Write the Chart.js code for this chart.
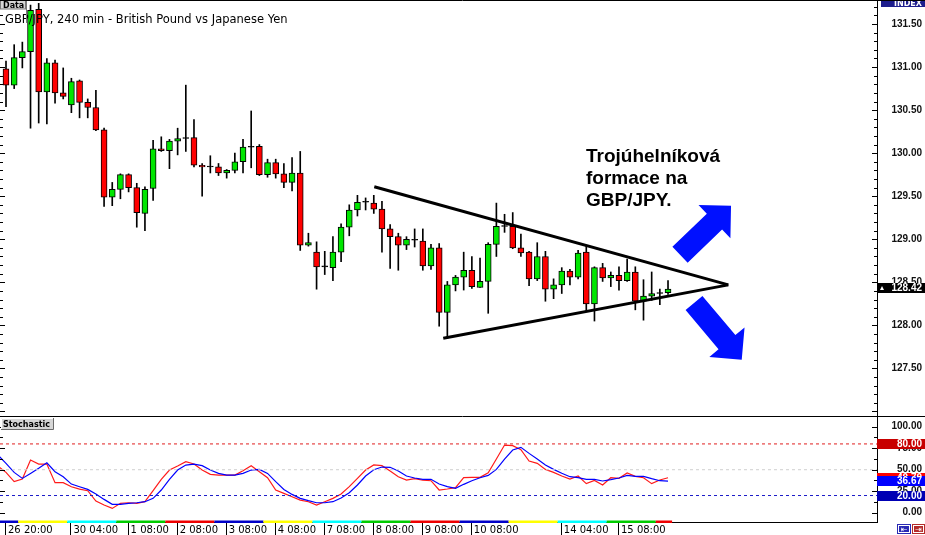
<!DOCTYPE html>
<html>
<head>
<meta charset="utf-8">
<script src="https://cdn.jsdelivr.net/npm/chart.js@4.4.1/dist/chart.umd.min.js"></script>
<style>
  html, body { margin: 0; padding: 0; background: #fff; }
  #wrap { position: relative; width: 925px; height: 535px; background: #fff; overflow: hidden; }
  #priceChart { position: absolute; left: 0; top: 0; }
  #stochChart { position: absolute; left: 0; top: 417px; }
</style>
</head>
<body>
<div id="wrap">
  <canvas id="priceChart" width="925" height="417"></canvas>
  <canvas id="stochChart" width="925" height="118"></canvas>
</div>
<script>
const title = 'GBP/JPY, 240 min - British Pound vs Japanese Yen';

// 4h candles, index 0 = "26 20:00"
const open = [130.98,130.79,131.11,131.18,131.67,130.71,131.05,130.70,130.56,130.84,
  130.59,130.53,130.27,129.49,129.58,129.75,129.60,129.30,129.59,130.05,
  130.03,130.14,130.17,130.18,129.86,129.85,129.84,129.77,129.80,129.90,
  130.07,130.08,129.75,129.89,129.76,129.66,129.77,128.93,128.85,128.69,
  128.67,128.85,129.14,129.34,129.43,129.42,129.35,129.12,129.03,128.93,
  129.00,128.98,128.69,128.90,128.15,128.47,128.56,128.64,128.44,128.51,
  128.94,129.15,129.15,128.90,128.85,128.54,128.80,128.42,128.47,128.63,
  128.56,128.85,128.25,128.67,128.55,128.58,128.52,128.62,128.28,128.34,
  128.37,128.38];
const high = [131.07,131.26,131.29,131.72,131.74,131.10,131.08,130.99,130.87,130.85,
  130.63,130.73,130.29,129.66,129.76,129.76,129.65,129.61,130.15,130.19,
  130.16,130.29,130.79,130.39,129.88,129.97,129.88,129.81,130.00,130.16,
  130.49,130.10,129.93,129.93,129.88,129.95,130.02,129.07,128.97,128.86,
  129.03,129.18,129.40,129.51,129.48,129.51,129.44,129.17,129.07,129.03,
  129.12,129.12,128.94,128.95,128.51,128.58,128.85,128.80,128.78,128.96,
  129.42,129.29,129.31,129.06,128.86,128.96,128.86,128.54,128.67,128.65,
  128.87,128.92,128.68,128.72,128.62,128.68,128.77,128.68,128.53,128.62,
  128.42,128.52];
const low = [130.54,130.75,130.99,130.29,130.35,130.34,130.58,130.63,130.47,130.41,
  130.41,130.26,129.38,129.39,129.47,129.55,129.14,129.10,129.45,130.02,
  129.82,129.98,130.02,129.84,129.50,129.77,129.74,129.71,129.77,129.77,
  129.83,129.74,129.72,129.71,129.60,129.56,128.87,128.92,128.42,128.59,
  128.52,128.74,129.04,129.27,129.34,129.30,128.85,128.66,128.64,128.88,
  128.91,128.64,128.65,127.99,127.85,128.40,128.41,128.43,128.44,128.14,
  128.80,129.08,128.89,128.80,128.46,128.52,128.28,128.31,128.37,128.47,
  128.54,128.16,128.05,128.51,128.45,128.41,128.51,128.18,128.06,128.29,
  128.24,128.36];
const close = [130.79,131.11,131.18,131.66,130.71,131.05,130.70,130.66,130.83,130.59,
  130.53,130.27,129.49,129.58,129.75,129.60,129.31,129.58,130.05,130.03,
  130.14,130.17,130.18,129.86,129.84,129.84,129.77,129.80,129.90,130.07,
  130.08,129.75,129.89,129.76,129.66,129.77,128.93,128.96,128.68,128.68,
  128.85,129.14,129.34,129.43,129.44,129.35,129.12,129.03,128.93,129.00,
  128.99,128.69,128.90,128.15,128.47,128.56,128.64,128.45,128.51,128.94,
  129.15,129.16,128.90,128.84,128.54,128.80,128.42,128.47,128.63,128.56,
  128.84,128.25,128.67,128.55,128.58,128.52,128.62,128.28,128.34,128.37,
  128.38,128.42];

// stochastic, first value belongs to the bar before index 0
const stochFirst = -1;
const stochMain = [54.3,
  46.9,36.1,39.2,61.2,56.6,56.6,34.9,34.9,30.2,27.5,
  25.6,13.6,8.9,5.0,10.9,11.6,10.9,12.8,25.6,38.8,
  49.6,54.3,59.3,56.6,49.6,44.6,43.8,43.8,43.8,48.8,
  54.7,47.7,40.7,26.4,22.5,18.6,14.7,12.8,8.9,12.8,
  16.7,21.7,30.3,40.0,49.6,55.5,54.7,48.5,41.9,38.0,
  39.6,38.0,37.2,26.4,27.6,29.1,40.7,41.1,41.1,46.5,
  62.4,78.7,78.0,73.3,60.1,57.4,50.4,46.9,42.7,39.2,
  42.7,33.8,37.6,32.2,40.7,40.0,46.2,42.3,40.7,33.8,
  38.0,40.7];
const stochSignal = [67.1,
  57.4,46.9,39.9,45.7,51.6,58.1,47.7,41.9,33.3,30.2,
  27.1,21.7,15.5,9.7,9.7,10.9,11.6,12.8,16.7,26.4,
  38.8,49.6,55.4,56.6,54.7,49.6,45.7,43.8,43.8,45.7,
  49.6,50.4,45.7,36.1,27.1,21.3,16.7,14.0,11.6,11.6,
  12.8,17.0,23.3,32.2,42.7,50.0,53.1,52.8,48.5,42.7,
  40.4,38.8,38.8,33.4,30.3,28.3,33.0,37.2,40.7,43.4,
  50.4,62.4,72.9,76.0,69.0,62.4,55.5,50.4,45.8,41.9,
  40.7,38.8,38.8,36.9,38.4,40.4,43.4,42.3,42.3,39.6,
  37.2,36.67];
const stochLevels = [80, 50, 20];

const priceTicks = [127.5, 128, 128.5, 129, 129.5, 130, 130.5, 131, 131.5];
const stochTicks = [0, 25, 50, 75, 100];
const timeTicks = [0, 8, 15, 21, 27, 33, 39, 45, 51, 57, 68, 75];
const timeLabels = ['26 20:00', '30 04:00', '1 08:00', '2 08:00', '3 08:00', '4 08:00',
  '7 08:00', '8 08:00', '9 08:00', '10 08:00', '14 04:00', '15 08:00'];

// drawn annotations, in (bar index, price)
const upperTrend = [[45.06, 129.61], [88.38, 128.47]];
const lowerTrend = [[53.5, 127.85], [88.38, 128.47]];
const arrows = [[[82.47, 128.82], [88.71, 129.39]], [[84.18, 128.26], [90.02, 127.60]]];
const noteLines = ['Trojúhelníková', 'formace na', 'GBP/JPY.'];
const lastPrice = 128.42;

const X_MIN = -0.734, X_MAX = 106.57;
const GREEN = '#00e600', RED = '#ff0000';
const sepColors = ['#0000c8', '#ffff00', '#00ffff', '#00cc00', '#ee0000'];

const bodyColors = open.map((o, i) => Math.abs(close[i] - o) < 0.015 ? '#000' : (close[i] > o ? GREEN : RED));

function fitAxis(axis) {
  axis.width = 45;
  axis.paddingTop = 0;
  axis.paddingBottom = 0;
}

function tickLabel(v) { return v.toFixed(2); }

function drawArrow(ctx, x, y, from, to) {
  const sx = x.getPixelForValue(from[0]), sy = y.getPixelForValue(from[1]);
  const tx = x.getPixelForValue(to[0]), ty = y.getPixelForValue(to[1]);
  const len = Math.hypot(tx - sx, ty - sy);
  const dx = (tx - sx) / len, dy = (ty - sy) / len, nx = -dy, ny = dx;
  const head = 23, hw = 23, sw = 11;
  const bx = tx - dx * head, by = ty - dy * head;
  ctx.beginPath();
  ctx.moveTo(sx + nx * sw, sy + ny * sw);
  ctx.lineTo(bx + nx * sw, by + ny * sw);
  ctx.lineTo(bx + nx * hw, by + ny * hw);
  ctx.lineTo(tx, ty);
  ctx.lineTo(bx - nx * hw, by - ny * hw);
  ctx.lineTo(bx - nx * sw, by - ny * sw);
  ctx.lineTo(sx - nx * sw, sy - ny * sw);
  ctx.closePath();
  ctx.fill();
}

function valueBox(ctx, a, py, color, text) {
  ctx.fillStyle = color;
  ctx.fillRect(a.right, Math.round(py) - 5, 48, 10);
  ctx.fillStyle = '#fff';
  ctx.font = 'bold 10px "Liberation Sans", Arial, sans-serif';
  ctx.textAlign = 'right';
  ctx.textBaseline = 'middle';
  ctx.fillText(text, 922, Math.round(py) + 0.5);
}

const priceDecor = {
  id: 'priceDecor',
  afterDraw(chart) {
    const { ctx, chartArea: a, scales: { x, y } } = chart;
    ctx.save();

    // minor ticks on both edges
    ctx.strokeStyle = '#000';
    ctx.lineWidth = 1;
    ctx.beginPath();
    for (let k = 1270; k <= 1317; k++) {
      const py = Math.round(y.getPixelForValue(k / 10)) + 0.5;
      const len = k % 5 === 0 ? 5 : 3;
      ctx.moveTo(a.right - len, py); ctx.lineTo(a.right, py);
      ctx.moveTo(a.left, py); ctx.lineTo(a.left + len, py);
    }
    ctx.stroke();

    // arrows
    ctx.fillStyle = '#0010ff';
    arrows.forEach(ar => drawArrow(ctx, x, y, ar[0], ar[1]));

    // note
    ctx.fillStyle = '#000';
    ctx.font = 'bold 19px "Liberation Sans", Arial, sans-serif';
    ctx.textAlign = 'left';
    ctx.textBaseline = 'alphabetic';
    noteLines.forEach((t, k) => ctx.fillText(t, 586, 162 + 22 * k));

    // title and Data box
    ctx.font = '11.5px "DejaVu Sans", sans-serif';
    ctx.fillStyle = '#000';
    ctx.fillText(title, 5, 22.5);
    ctx.fillStyle = '#d6d6d6';
    ctx.fillRect(0, 0, 25, 9);
    ctx.strokeStyle = '#7a7a7a';
    ctx.strokeRect(0.5, -0.5, 25, 9.5);
    ctx.beginPath(); ctx.moveTo(26.5, 0); ctx.lineTo(26.5, 23); ctx.stroke();
    ctx.fillStyle = '#000';
    ctx.font = 'bold 8px "DejaVu Sans", sans-serif';
    ctx.fillText('Data', 3, 7.5);

    // INDEX tag
    ctx.fillStyle = '#1c1c8c';
    ctx.fillRect(881, 0, 44, 7);
    ctx.fillStyle = '#fff';
    ctx.textAlign = 'right';
    ctx.fillText('INDEX', 922, 6);

    // last price tag
    const py = y.getPixelForValue(lastPrice) - 1;
    ctx.fillStyle = '#000';
    ctx.fillRect(a.right, Math.round(py) - 5, 48, 10);
    ctx.fillStyle = '#fff';
    ctx.beginPath();
    ctx.moveTo(880, Math.round(py) + 2); ctx.lineTo(884, Math.round(py) + 2); ctx.lineTo(882, Math.round(py) - 2);
    ctx.closePath(); ctx.fill();
    ctx.font = 'bold 10px "Liberation Sans", Arial, sans-serif';
    ctx.textBaseline = 'middle';
    ctx.fillText(tickLabel(lastPrice), 922, Math.round(py) + 0.5);

    // frame
    ctx.strokeStyle = '#000';
    ctx.lineWidth = 1;
    ctx.beginPath();
    ctx.moveTo(0, 0.5); ctx.lineTo(925, 0.5);
    ctx.moveTo(0, 416.5); ctx.lineTo(925, 416.5);
    ctx.stroke();
    ctx.restore();
  }
};

const stochDecor = {
  id: 'stochDecor',
  afterDraw(chart) {
    const { ctx, chartArea: a, scales: { x, y } } = chart;
    ctx.save();

    ctx.strokeStyle = '#000';
    ctx.lineWidth = 1;
    ctx.beginPath();
    for (let v = 0; v <= 100; v += 12.5) {
      const py = Math.round(y.getPixelForValue(v)) + 0.5;
      const len = v % 25 === 0 ? 5 : 3;
      ctx.moveTo(a.right - len, py); ctx.lineTo(a.right, py);
      ctx.moveTo(a.left, py); ctx.lineTo(a.left + len, py);
    }
    ctx.stroke();

    // indicator name box
    ctx.fillStyle = '#d6d6d6';
    ctx.fillRect(1, 1, 52, 11);
    ctx.strokeStyle = '#fff';
    ctx.beginPath(); ctx.moveTo(1.5, 12); ctx.lineTo(1.5, 1.5); ctx.lineTo(53, 1.5); ctx.stroke();
    ctx.strokeStyle = '#6a6a6a';
    ctx.beginPath(); ctx.moveTo(53.5, 1); ctx.lineTo(53.5, 12.5); ctx.lineTo(1, 12.5); ctx.stroke();
    ctx.fillStyle = '#000';
    ctx.font = 'bold 8px "DejaVu Sans", sans-serif';
    ctx.textAlign = 'left';
    ctx.textBaseline = 'alphabetic';
    ctx.fillText('Stochastic', 3, 10);

    // value tags on the axis
    const lastMain = stochMain[stochMain.length - 1];
    const lastSignal = stochSignal[stochSignal.length - 1];
    valueBox(ctx, a, y.getPixelForValue(80), '#c80000', tickLabel(80));
    valueBox(ctx, a, y.getPixelForValue(lastMain), '#ff0000', tickLabel(lastMain));
    valueBox(ctx, a, y.getPixelForValue(lastSignal), '#0000ff', tickLabel(lastSignal));
    valueBox(ctx, a, y.getPixelForValue(20), '#0000b4', tickLabel(20));

    // bottom frame line
    ctx.strokeStyle = '#000';
    ctx.beginPath(); ctx.moveTo(0, a.bottom + 0.5); ctx.lineTo(a.right, a.bottom + 0.5); ctx.stroke();

    // period separator strip
    let seg = 0;
    for (let s = 1.5 - 6; s < open.length - 0.5; s += 6, seg++) {
      const x0 = Math.max(x.getPixelForValue(s), 0);
      const x1 = x.getPixelForValue(Math.min(s + 6, open.length - 0.5));
      ctx.fillStyle = sepColors[seg % sepColors.length];
      ctx.fillRect(x0, a.bottom - 1.5, x1 - x0, 2.5);
    }

    // time labels
    ctx.fillStyle = '#000';
    ctx.font = '10px "DejaVu Sans", sans-serif';
    ctx.textAlign = 'left';
    ctx.textBaseline = 'alphabetic';
    ctx.beginPath();
    timeTicks.forEach((t, k) => {
      const px = x.getPixelForValue(t);
      const lx = Math.round(px) - 0.5;
      ctx.moveTo(lx, a.bottom + 1); ctx.lineTo(lx, 118);
      ctx.fillText(timeLabels[k], px + 2, a.bottom + 11);
    });
    ctx.stroke();

    // corner buttons
    ctx.fillStyle = '#2a2ab4';
    ctx.fillRect(897, 107, 14, 10);
    ctx.fillStyle = '#b42a2a';
    ctx.fillRect(912, 107, 13, 10);
    ctx.strokeStyle = '#fff';
    ctx.strokeRect(898.5, 108.5, 11, 7);
    ctx.strokeRect(913.5, 108.5, 10, 7);
    ctx.fillStyle = '#fff';
    ctx.font = '8px "DejaVu Sans", sans-serif';
    ctx.textAlign = 'center';
    ctx.textBaseline = 'middle';
    ctx.fillText('\u21E4', 904, 112.5);
    ctx.fillText('\u21E5', 918.5, 112.5);
    ctx.restore();
  }
};

const axisFont = { family: '"Liberation Sans", Arial, sans-serif', size: 10, weight: 'bold' };

new Chart(document.getElementById('priceChart'), {
  type: 'bar',
  data: {
    datasets: [
      {
        type: 'bar', label: 'range', order: 3, grouped: false,
        data: open.map((o, i) => ({ x: i, y: [low[i], high[i]] })),
        backgroundColor: '#000', barThickness: 1, borderWidth: 0
      },
      {
        type: 'bar', label: 'body', order: 2, grouped: false,
        data: open.map((o, i) => ({ x: i, y: [o, close[i]] })),
        backgroundColor: bodyColors, borderColor: '#000', borderWidth: 1,
        borderSkipped: false, barThickness: 6
      },
      {
        type: 'line', label: 'upper', order: 1,
        data: upperTrend.map(p => ({ x: p[0], y: p[1] })),
        borderColor: '#000', borderWidth: 3, pointRadius: 0
      },
      {
        type: 'line', label: 'lower', order: 1,
        data: lowerTrend.map(p => ({ x: p[0], y: p[1] })),
        borderColor: '#000', borderWidth: 3, pointRadius: 0
      }
    ]
  },
  options: {
    responsive: false,
    animation: false,
    layout: { padding: { left: 0, right: 3, top: 0, bottom: 1 } },
    plugins: { legend: { display: false }, tooltip: { enabled: false } },
    scales: {
      x: { type: 'linear', min: X_MIN, max: X_MAX, offset: false, display: false },
      y: {
        position: 'right', min: 126.947, max: 131.779,
        afterBuildTicks: axis => { axis.ticks = priceTicks.map(v => ({ value: v })); },
        afterFit: fitAxis,
        grid: { display: false, drawTicks: false },
        border: { display: true, color: '#000', width: 1 },
        ticks: { callback: tickLabel, font: axisFont, color: '#111', padding: 0, crossAlign: 'far', autoSkip: false }
      }
    }
  },
  plugins: [priceDecor]
});

const levelColors = ['#e02020', '#cfcfcf', '#1c1cc8'];

new Chart(document.getElementById('stochChart'), {
  type: 'line',
  data: {
    datasets: [
      ...stochLevels.map((lv, k) => ({
        label: 'level ' + lv,
        data: [{ x: X_MIN, y: lv }, { x: X_MAX, y: lv }],
        borderColor: levelColors[k], borderWidth: 1, borderDash: [3, 3], pointRadius: 0
      })),
      {
        label: 'signal',
        data: stochSignal.map((v, k) => ({ x: k + stochFirst, y: v })),
        borderColor: '#0000ff', borderWidth: 1.2, pointRadius: 0, tension: 0
      },
      {
        label: 'main',
        data: stochMain.map((v, k) => ({ x: k + stochFirst, y: v })),
        borderColor: '#ff1a1a', borderWidth: 1.2, pointRadius: 0, tension: 0
      }
    ]
  },
  options: {
    responsive: false,
    animation: false,
    layout: { padding: { left: 0, right: 3, top: 0, bottom: 13 } },
    plugins: { legend: { display: false }, tooltip: { enabled: false } },
    scales: {
      x: { type: 'linear', min: X_MIN, max: X_MAX, offset: false, display: false },
      y: {
        position: 'right', min: -10.8, max: 111.3,
        afterBuildTicks: axis => { axis.ticks = stochTicks.map(v => ({ value: v })); },
        afterFit: fitAxis,
        grid: { display: false, drawTicks: false },
        border: { display: true, color: '#000', width: 1 },
        ticks: { callback: tickLabel, font: axisFont, color: '#111', padding: 0, crossAlign: 'far', autoSkip: false }
      }
    }
  },
  plugins: [stochDecor]
});
</script>
</body>
</html>
